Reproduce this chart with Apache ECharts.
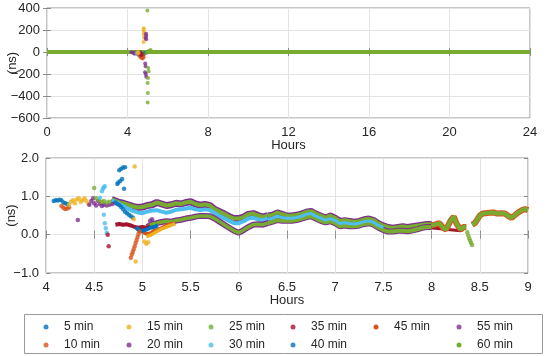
<!DOCTYPE html>
<html><head><meta charset="utf-8">
<script src="https://cdn.jsdelivr.net/npm/echarts@6/dist/echarts.min.js"></script>
<style>html,body{margin:0;padding:0;background:#fff}#c{width:550px;height:356px}</style>
</head><body><div id="c"></div>
<script>
// ---------- names / colours ----------
const seriesNames = ['5 min','10 min','15 min','20 min','25 min','30 min','35 min','40 min','45 min','50 min','55 min','60 min'];
const seriesColors = ['#0072BD','#D95319','#EDB120','#7E2F8E','#77AC30','#4DBEEE','#A2142F','#0072BD','#D95319','#EDB120','#7E2F8E','#77AC30'];
const legendColumns = [['5 min','10 min'],['15 min','20 min'],['25 min','30 min'],['35 min','40 min'],['45 min','50 min'],['55 min','60 min']];

// ---------- top panel (0-24 h, ns) ----------
const topZeroLine = [[0,0],[4.2,0],[5.2,0],[24,0]];
const top5 = [[4.6,-15],[4.65,-25],[4.7,-30],[4.75,-38],[4.8,-22],[4.85,-8]];
const top10 = [[4.55,-20],[4.6,-35],[4.65,-45],[4.7,-55],[4.75,-60],[4.8,-48],[4.72,-40],[4.78,-30]];
const top15 = [[4.81,215],[4.8,200],[4.82,180],[4.81,160],[4.82,130],[4.8,90],[4.5,-5],[4.55,-10]];
const top20 = [[4.2,-3],[4.3,-8],[4.35,-15],[4.4,-5],[4.45,-12]];
const top25 = [[4.95,-10],[5.05,10]];
const top30 = [[4.45,-10],[4.5,-22],[4.55,-28],[4.6,-12],[4.62,-20]];
const top35 = [[4.65,-5],[4.7,-18],[4.68,-30]];
const top55 = [[4.92,165],[4.93,150],[4.91,130],[4.93,115],[4.88,-105],[4.9,-130],[4.87,-185],[4.91,-200],[4.93,-225]];
const top60 = [[4.99,378],[5.03,-145],[5.05,-176],[5.02,-236],[5.0,-282],[5.01,-373],[5.0,-458],[5.15,18],[5.12,10]];

// ---------- bottom panel (4-9 h, ns) ----------
const b5Dots = [[4.08,0.88],[4.1,0.9],[4.12,0.89],[4.14,0.91],[4.16,0.9],[4.18,0.84],[4.2,0.82],[4.22,0.8],
  [4.72,0.84],[4.74,0.8],[4.76,0.77],[4.78,0.72],[4.8,0.66],[4.82,0.6],[4.84,0.56],[4.86,0.52],[4.88,0.48],[4.9,0.45]];
const b5Low = [[4.93,0.2],[4.96,0.12],[5.0,0.1],[5.04,0.13],[5.08,0.18],[5.12,0.2],[5.16,0.24]];
const b40Dots = [[4.76,1.68],[4.78,1.72],[4.8,1.75],[4.82,1.76],[4.74,1.32],[4.75,1.36],[4.77,1.4],[4.79,1.45],[4.81,1.2]];
const b10Dots = [[4.16,0.75],[4.18,0.7],[4.2,0.67],[4.22,0.68],[4.24,0.71],[4.88,-0.6],[4.89,-0.52],[4.9,-0.45],[4.91,-0.38],
  [4.92,-0.3],[4.93,-0.22],[4.94,-0.14],[4.95,-0.06],[4.96,0.02],[4.97,0.08]];
const b10Line = [[4.98,0.1],[5.0,0.06],[5.04,0.02],[5.08,0.04],[5.12,0.1],[5.16,0.14],[5.2,0.18],[5.25,0.24],[5.3,0.28],[5.34,0.3]];
const b15Dots = [[4.24,0.78],[4.26,0.86],[4.28,0.9],[4.3,0.82],[4.32,0.92],[4.34,0.95],[4.36,0.86],[4.38,0.9],[4.4,0.95],
  [4.42,0.88],[4.44,0.8],[4.92,1.78],[4.91,0.4],[4.93,-0.7],[5.02,-0.18],[5.04,-0.24],[5.06,-0.2]];
const b15Line = [[5.04,-0.05],[5.08,-0.02],[5.12,0.04],[5.16,0.1],[5.2,0.15],[5.25,0.2],[5.3,0.25],[5.34,0.28]];
const b20Dots = [[4.33,0.38],[4.45,0.78],[4.47,0.88],[4.49,0.95],[4.5,0.82],[4.52,0.76],[4.54,0.88],[4.56,0.8],[4.58,0.75],
  [4.6,0.78],[4.63,0.76],[4.66,0.78],[4.69,0.8],[5.08,0.36],[5.1,0.4]];
const b25Dots = [[4.5,1.22],[4.52,0.95],[4.55,0.9],[4.58,0.85],[4.6,0.88],[4.63,0.84],[4.66,0.86]];
const b30Dots = [[4.56,0.96],[4.58,1.13],[4.59,1.2],[4.6,1.24],[4.61,1.26],[4.6,0.52],[4.61,0.3],[4.62,0.17],[4.63,0.05]];
const b35Dots = [[4.64,0.0],[4.65,-0.3]];
const b35Line = [[4.72,0.26],[4.76,0.28],[4.8,0.26],[4.84,0.27],[4.88,0.24],[4.92,0.2],[4.96,0.18],[5.0,0.2],[5.04,0.18],[5.08,0.22]];

const upperHours = [4.68,4.72,4.76,4.8,4.85,4.9,4.95,5.0,5.05,5.1,5.15,5.2,5.25,5.3,5.35,5.4,5.45,5.5,5.55,5.6,5.65,5.7,5.75,5.8,5.85,5.9,5.95,6.0,6.05,6.1,6.15,6.2,6.25,6.3];
const upperGreen = [0.92,0.88,0.84,0.82,0.78,0.74,0.71,0.72,0.76,0.78,0.84,0.8,0.76,0.78,0.82,0.8,0.84,0.86,0.8,0.77,0.79,0.76,0.66,0.6,0.54,0.47,0.42,0.42,0.46,0.53,0.55,0.5,0.46,0.5];
const upperCyan = [0.9,0.85,0.8,0.74,0.68,0.62,0.58,0.56,0.6,0.63,0.64,0.6,0.57,0.6,0.65,0.66,0.68,0.7,0.66,0.64,0.66,0.64,0.56,0.49,0.42,0.36,0.3,0.3,0.35,0.42,0.44,0.4,0.37,0.42];
const lowerHours = [5.05,5.1,5.15,5.2,5.25,5.3,5.35,5.4,5.45,5.5,5.55,5.6,5.65,5.7,5.75,5.8,5.85,5.9,5.95,6.0,6.05,6.1,6.15,6.2,6.25,6.3];
const lowerBand = [0.2,0.28,0.3,0.33,0.35,0.34,0.37,0.39,0.42,0.44,0.47,0.49,0.49,0.48,0.42,0.34,0.26,0.18,0.1,0.05,0.12,0.2,0.26,0.27,0.26,0.3];

const tailHours = [6.3,6.35,6.4,6.45,6.5,6.55,6.6,6.65,6.7,6.75,6.8,6.85,6.9,6.95,7.0,7.05,7.1,7.15,7.2,7.25,7.3,7.35,7.4,7.45,7.5,7.55,7.6,7.65,7.7,7.75,7.8,7.85,7.9,7.95,8.0];
const tailTop = [0.5,0.52,0.58,0.54,0.5,0.5,0.52,0.55,0.6,0.62,0.55,0.5,0.45,0.5,0.44,0.36,0.38,0.36,0.34,0.36,0.4,0.42,0.38,0.3,0.24,0.2,0.18,0.2,0.22,0.2,0.22,0.24,0.26,0.28,0.28];
const tailMid = [0.4,0.43,0.48,0.45,0.43,0.43,0.45,0.48,0.53,0.55,0.48,0.43,0.38,0.42,0.37,0.29,0.31,0.29,0.28,0.3,0.34,0.36,0.32,0.24,0.18];
const tailBottom = [0.3,0.34,0.38,0.36,0.36,0.36,0.38,0.42,0.46,0.48,0.42,0.36,0.32,0.35,0.3,0.22,0.24,0.22,0.22,0.24,0.28,0.3,0.26,0.18,0.12,0.08,0.08,0.1,0.1,0.09,0.11,0.14,0.18,0.2,0.2];
const redTail = [[7.8,0.12],[7.84,0.15],[7.88,0.17],[7.92,0.19],[7.96,0.19],[8.3,0.1],[8.34,0.16]];

const endHoursA = [8.0,8.04,8.08,8.1,8.12,8.15,8.18,8.2,8.23,8.26,8.3,8.33,8.36];
const endValuesA = [0.24,0.27,0.3,0.24,0.18,0.13,0.28,0.38,0.47,0.28,0.13,0.2,0.2];
const dropDots = [[8.37,0.06],[8.38,-0.02],[8.39,-0.1],[8.4,-0.16],[8.41,-0.22],[8.42,-0.27]];
const endHoursB = [8.42,8.45,8.48,8.5,8.53,8.56,8.6,8.64,8.68,8.72,8.76,8.8,8.83,8.86,8.9,8.94,8.97,9.0];
const endValuesB = [0.26,0.3,0.42,0.5,0.55,0.56,0.57,0.58,0.55,0.56,0.55,0.48,0.44,0.5,0.58,0.64,0.67,0.64];

// ---------- helpers ----------
const FONT = 'Liberation Sans, Arial, sans-serif';
const colorOf = n => seriesColors[seriesNames.indexOf(n)];
const zip = (xs, ys) => ys.map((y, i) => [xs[i], y]);
const minus = v => String(v).replace('-', '\u2212');
function dots(name, data, panel, size) {
  return {type:'scatter', name, data, xAxisIndex: panel*2, yAxisIndex: panel*2, symbolSize: size||4,
    itemStyle:{color: colorOf(name)}, z: 4, silent: true};
}
function line(name, data, panel, width, z) {
  return {type:'line', name, data, xAxisIndex: panel*2, yAxisIndex: panel*2, showSymbol:false, symbol:'none',
    lineStyle:{color: colorOf(name), width: width}, itemStyle:{color: colorOf(name)}, z: z||2, silent: true};
}
const tickStyle = {inside:true, length:4, lineStyle:{color:'#8c8c8c'}};
const labelStyle = {color:'#262626', fontSize:13, fontFamily:FONT};
function mainX(gi, min, max, interval) {
  return {type:'value', gridIndex:gi, min, max, interval, position:'bottom',
    axisLine:{show:false}, axisTick:tickStyle, axisLabel:Object.assign({margin:8}, labelStyle),
    splitLine:{show:true, lineStyle:{color:'#e4e4e4', width:1}},
    name:'Hours', nameLocation:'middle', nameGap:21, nameMoveOverlap:false, nameTextStyle:labelStyle};
}
function mirrorX(gi, min, max, interval) {
  return {type:'value', gridIndex:gi, min, max, interval, position:'top', axisLine:{show:false},
    axisTick:tickStyle, axisLabel:{show:false}, splitLine:{show:false}};
}
function mainY(gi, min, max, interval, fmt) {
  return {type:'value', gridIndex:gi, min, max, interval, position:'left',
    axisLine:{show:false}, axisTick:tickStyle, axisLabel:Object.assign({margin:7, formatter:fmt}, labelStyle),
    splitLine:{show:true, lineStyle:{color:'#e4e4e4', width:1}},
    name:'(ns)', nameLocation:'middle', nameRotate:90, nameGap:28, nameMoveOverlap:false, nameTextStyle:labelStyle};
}
function mirrorY(gi, min, max, interval) {
  return {type:'value', gridIndex:gi, min, max, interval, position:'right', axisLine:{show:false},
    axisTick:tickStyle, axisLabel:{show:false}, splitLine:{show:false}};
}
const legendLefts = [43.5, 126.5, 208.5, 290.5, 373.5, 456.5];
function legendColumn(names, left) {
  return {data: names.map(n => ({name:n, icon:'circle', itemStyle:{color: colorOf(n)}})),
    left, top:320, orient:'vertical', itemWidth:26, itemHeight:5, itemGap:4, padding:0, selectedMode:false,
    textStyle:{fontSize:12, fontFamily:FONT, color:'#262626', lineHeight:14}};
}

const series = [
  // top panel
  line('60 min', topZeroLine, 0, 4, 2),
  dots('20 min', top20, 0), dots('30 min', top30, 0), dots('5 min', top5, 0), dots('10 min', top10, 0),
  dots('35 min', top35, 0), dots('25 min', top25, 0), dots('15 min', top15, 0), dots('55 min', top55, 0),
  dots('60 min', top60, 0),
  // bottom panel: bands
  line('55 min', zip(upperHours, upperGreen), 1, 7, 2),
  line('60 min', zip(upperHours, upperGreen), 1, 4, 2),
  line('30 min', zip(upperHours, upperCyan), 1, 4, 2),
  line('20 min', zip(lowerHours, lowerBand), 1, 6, 2),
  line('25 min', zip(lowerHours, lowerBand), 1, 3.5, 2),
  line('35 min', redTail, 1, 3, 2),
  line('55 min', zip(tailHours, tailTop), 1, 6, 2),
  line('60 min', zip(tailHours, tailTop), 1, 3.5, 2),
  line('20 min', zip(tailHours, tailBottom), 1, 6, 2),
  line('25 min', zip(tailHours, tailBottom), 1, 4, 2),
  line('30 min', zip(tailHours.slice(0, tailMid.length), tailMid), 1, 3, 2),
  line('45 min', zip(endHoursA, endValuesA), 1, 6, 2),
  line('60 min', zip(endHoursA, endValuesA), 1, 4, 2),
  line('45 min', zip(endHoursB, endValuesB), 1, 6, 2),
  line('60 min', zip(endHoursB, endValuesB), 1, 4, 2),
  line('10 min', b10Line, 1, 3.5, 3),
  line('15 min', b15Line, 1, 3.5, 3),
  line('35 min', b35Line, 1, 4, 3),
  line('5 min', b5Low, 1, 4, 3),
  // bottom panel: scattered points
  dots('5 min', b5Dots, 1, 4.5), dots('10 min', b10Dots, 1, 4.5), dots('15 min', b15Dots, 1, 4.5),
  dots('20 min', b20Dots, 1, 4.5), dots('25 min', b25Dots, 1, 4.5), dots('30 min', b30Dots, 1, 4.5),
  dots('35 min', b35Dots, 1, 4.5), dots('40 min', b40Dots, 1, 4.5), dots('60 min', dropDots, 1, 4.5)
];

const chart = echarts.init(document.getElementById('c'), null, {renderer:'canvas'});
chart.setOption({
  animation:false,
  backgroundColor:'#fff',
  textStyle:{fontFamily:FONT},
  grid:[
    {left:47, top:8, width:483, height:110, show:true, borderColor:'#8c8c8c', borderWidth:1, backgroundColor:'transparent', containLabel:false, outerBoundsMode:'none'},
    {left:46, top:158, width:482, height:115, show:true, borderColor:'#8c8c8c', borderWidth:1, backgroundColor:'transparent', containLabel:false, outerBoundsMode:'none'}
  ],
  xAxis:[ mainX(0,0,24,4), mirrorX(0,0,24,4), mainX(1,4,9,0.5), mirrorX(1,4,9,0.5) ],
  yAxis:[ mainY(0,-600,400,200, v => minus(v)), mirrorY(0,-600,400,200),
          mainY(1,-1,2,1, v => minus(v.toFixed(1))), mirrorY(1,-1,2,1) ],
  legend: legendColumns.map((c, i) => legendColumn(c, legendLefts[i])),
  graphic:[{type:'rect', shape:{x:24.5, y:314.5, width:518, height:39}, style:{fill:'none', stroke:'#9a9a9a', lineWidth:1}, silent:true}],
  series
});
</script></body></html>
